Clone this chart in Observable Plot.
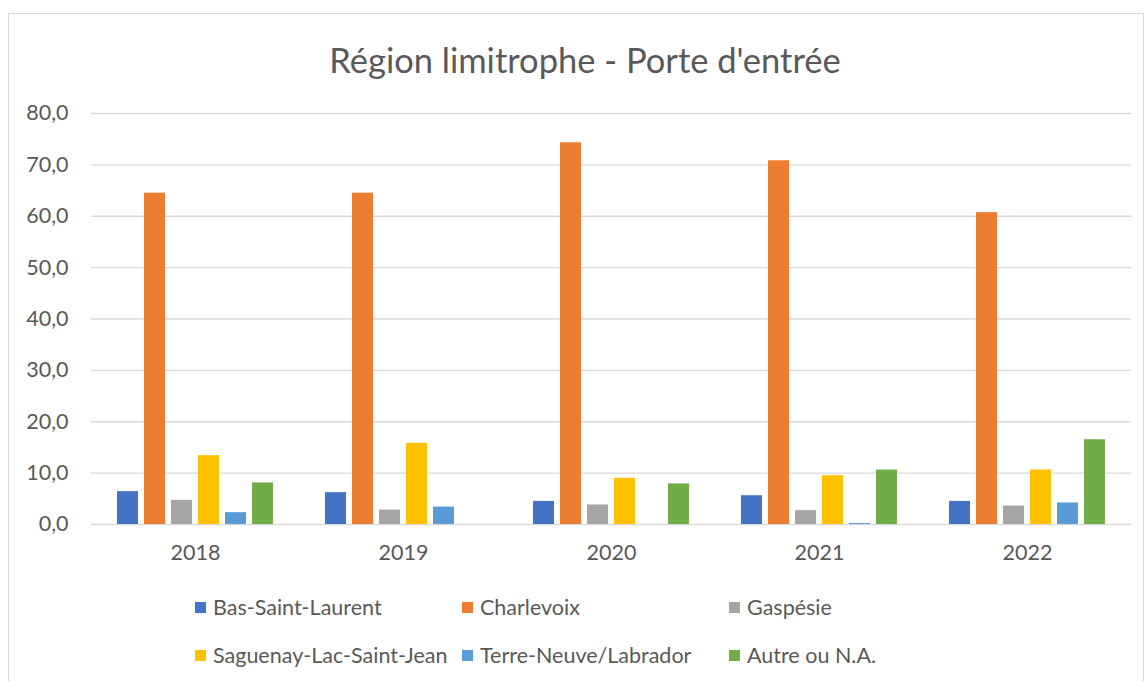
<!DOCTYPE html>
<html>
<head>
<meta charset="utf-8">
<script src="https://cdn.jsdelivr.net/npm/d3@7"></script>
<script src="https://cdn.jsdelivr.net/npm/@observablehq/plot@0.6"></script>
<style>
  body { margin: 0; background: #fff; }
  #wrap { position: relative; width: 1146px; height: 681px; overflow: hidden; font-family: Lato, "Open Sans", sans-serif; color: #595959; }
  #frame { position: absolute; left: 8px; top: 13px; width: 1136px; height: 680px; border: 1px solid #d9d9d9; box-sizing: border-box; }
  #title { position: absolute; left: 0; width: 1170px; top: 37px; line-height: 46px; text-align: center; font-size: 34.5px; color: #595959; }
  #chart { position: absolute; left: 0; top: 90px; }
  #legend { position: absolute; left: 195px; top: 593px; display: grid; grid-template-columns: 267px 267px 267px; row-gap: 20px; font-size: 21.5px; }
  .item { display: flex; align-items: center; height: 28px; white-space: nowrap; }
  .sw { width: 11px; height: 11px; margin-right: 7px; flex: none; }
</style>
</head>
<body>
<div id="wrap">
  <div id="frame"></div>
  <div id="title">Région limitrophe - Porte d'entrée</div>
  <div id="chart"></div>
  <div id="legend"></div>
</div>
<script>
const years = ["2018", "2019", "2020", "2021", "2022"];
const series = ["Bas-Saint-Laurent", "Charlevoix", "Gaspésie", "Saguenay-Lac-Saint-Jean", "Terre-Neuve/Labrador", "Autre ou N.A."];
const colors = ["#4472C4", "#ED7D31", "#A5A5A5", "#FFC000", "#5B9BD5", "#70AD47"];
const basSaintLaurent = [6.4, 6.2, 4.5, 5.6, 4.5];
const charlevoix = [64.5, 64.5, 74.3, 70.8, 60.7];
const gaspesie = [4.7, 2.8, 3.8, 2.7, 3.6];
const saguenay = [13.4, 15.8, 9.0, 9.5, 10.6];
const terreNeuve = [2.3, 3.4, null, 0.2, 4.2];
const autre = [8.1, null, 7.9, 10.6, 16.5];
const yTicks = [0, 10, 20, 30, 40, 50, 60, 70, 80];

const valuesBySeries = [basSaintLaurent, charlevoix, gaspesie, saguenay, terreNeuve, autre];
const data = [];
series.forEach((s, i) => years.forEach((y, j) => {
  const v = valuesBySeries[i][j];
  if (v != null) data.push({year: y, series: s, value: v});
}));

const fmt = d => d.toFixed(1).replace(".", ",");

const chart = Plot.plot({
  width: 1146,
  height: 480,
  marginLeft: 91,
  marginRight: 15,
  marginTop: 23,
  marginBottom: 46,
  style: {fontSize: "21.5px", fontFamily: "Lato, 'Open Sans', sans-serif", color: "#595959", background: "transparent"},
  fx: {domain: years, padding: 0, label: null},
  x: {domain: series, paddingInner: 0.22, paddingOuter: 0.87, axis: null},
  y: {domain: [0, 80], label: null},
  color: {domain: series, range: colors},
  marks: [
    Plot.gridY(yTicks, {stroke: "#d9d9d9", strokeOpacity: 1, strokeWidth: 1.3}),
    Plot.barY(data, {fx: "year", x: "series", y: "value", fill: "series"}),
    Plot.axisY(yTicks, {tickSize: 0, tickPadding: 23, tickFormat: fmt, label: null, fill: "#595959"}),
    Plot.axisFx({anchor: "bottom", tickSize: 0, tickPadding: 20, label: null, fill: "#595959"})
  ]
});
document.getElementById("chart").appendChild(chart);

const legend = document.getElementById("legend");
series.forEach((s, i) => {
  const it = document.createElement("div");
  it.className = "item";
  const sw = document.createElement("span");
  sw.className = "sw";
  sw.style.background = colors[i];
  const t = document.createElement("span");
  t.textContent = s;
  it.appendChild(sw);
  it.appendChild(t);
  legend.appendChild(it);
});
</script>
</body>
</html>
